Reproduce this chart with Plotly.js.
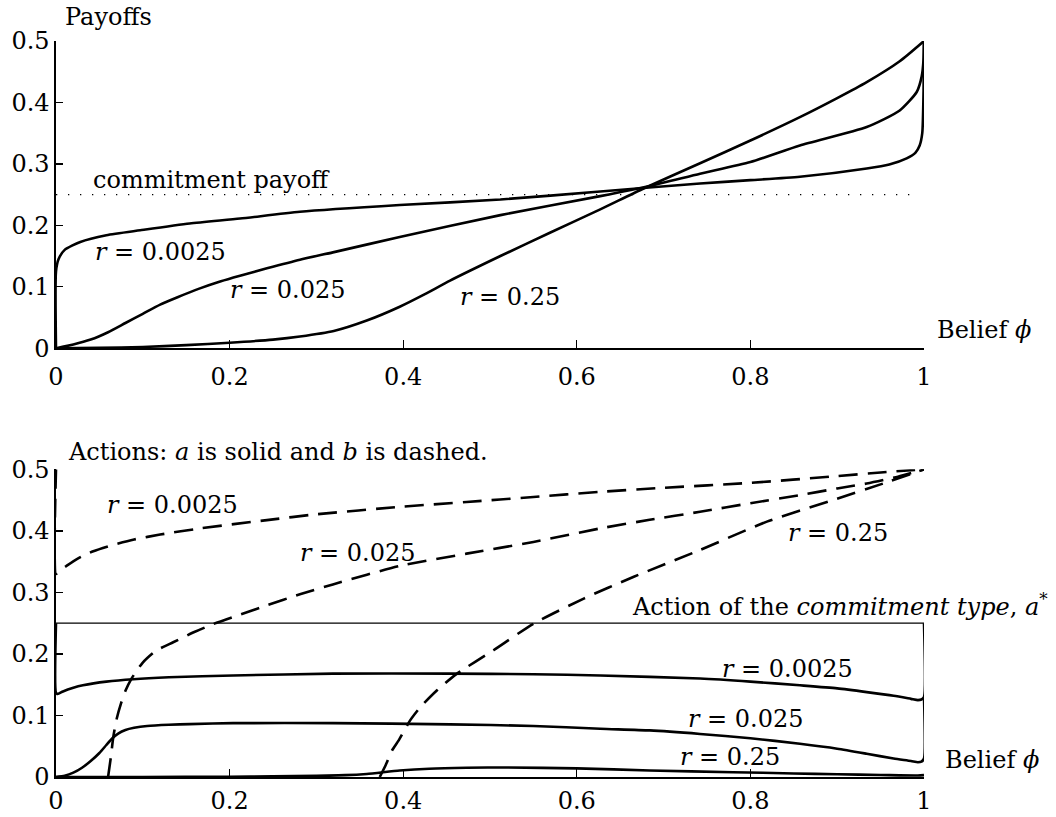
<!DOCTYPE html>
<html>
<head>
<meta charset="utf-8">
<script src="https://cdn.plot.ly/plotly-3.0.1.min.js"></script>
<style>html,body{margin:0;padding:0;background:#fff;}#chart{width:1056px;height:817px;}</style>
</head>
<body>
<div id="chart"></div>
<script>
// ---------- Top panel: payoffs ----------
const payPhi0025 = [0, 0, 0.003, 0.010, 0.028, 0.058, 0.097, 0.154, 0.212, 0.281, 0.396, 0.512, 0.627, 0.742, 0.8, 0.857, 0.934, 0.96, 0.98, 0.99, 0.995, 0.998, 0.9995, 1];
const pay0025    = [0, 0.125, 0.145, 0.160, 0.173, 0.184, 0.192, 0.203, 0.211, 0.222, 0.233, 0.242, 0.255, 0.268, 0.2735, 0.279, 0.2925, 0.299, 0.309, 0.318, 0.330, 0.350, 0.420, 0.5];

const payPhi025 = [0, 0.02, 0.04, 0.06, 0.08, 0.1, 0.12, 0.14, 0.165, 0.19, 0.212, 0.243, 0.281, 0.319, 0.396, 0.512, 0.627, 0.684, 0.742, 0.8, 0.857, 0.934, 0.972, 0.9916, 0.9973, 0.9995, 1];
const pay025    = [0, 0.006, 0.014, 0.026, 0.041, 0.056, 0.071, 0.083, 0.097, 0.109, 0.118, 0.130, 0.144, 0.156, 0.181, 0.2166, 0.2475, 0.264, 0.284, 0.303, 0.330, 0.360, 0.387, 0.417, 0.442, 0.47, 0.5];

const payPhi25 = [0, 0.05, 0.1, 0.15, 0.2, 0.25, 0.281, 0.32, 0.358, 0.396, 0.425, 0.454, 0.512, 0.569, 0.627, 0.677, 0.742, 0.8, 0.857, 0.9, 0.934, 0.972, 1];
const pay25    = [0, 0.0005, 0.002, 0.005, 0.009, 0.014, 0.019, 0.028, 0.045, 0.0675, 0.088, 0.110, 0.150, 0.188, 0.226, 0.260, 0.301, 0.338, 0.376, 0.407, 0.433, 0.467, 0.5];

const commitPhi = [0, 0.995];
const commitPayoff = [0.25, 0.25];

// ---------- Bottom panel: actions ----------
// b (dashed)
const bPhi0025 = [0, 0, 0.004, 0.012, 0.025, 0.043, 0.065, 0.09, 0.12, 0.166, 0.243, 0.3, 0.396, 0.473, 0.55, 0.627, 0.7, 0.8, 0.9, 0.95, 1];
const b0025    = [0.5, 0.33, 0.335, 0.343, 0.355, 0.367, 0.377, 0.386, 0.394, 0.404, 0.4175, 0.427, 0.439, 0.447, 0.455, 0.4635, 0.470, 0.478, 0.489, 0.495, 0.5];

const bPhi025 = [0.06, 0.063, 0.066, 0.07, 0.075, 0.08, 0.087, 0.1, 0.115, 0.135, 0.16, 0.18, 0.21, 0.243, 0.281, 0.319, 0.396, 0.473, 0.55, 0.627, 0.684, 0.742, 0.8, 0.857, 0.9, 0.934, 0.97, 1];
const b025    = [0, 0.03, 0.065, 0.095, 0.12, 0.14, 0.16, 0.186, 0.205, 0.219, 0.236, 0.248, 0.263, 0.279, 0.297, 0.313, 0.343, 0.363, 0.382, 0.404, 0.418, 0.431, 0.445, 0.458, 0.469, 0.477, 0.488, 0.5];

const bPhi25 = [0.373, 0.38, 0.387, 0.395, 0.408, 0.42, 0.439, 0.462, 0.504, 0.55, 0.608, 0.665, 0.742, 0.819, 0.895, 0.953, 1];
const b25    = [0, 0.02, 0.043, 0.06, 0.092, 0.114, 0.141, 0.168, 0.206, 0.249, 0.29, 0.325, 0.369, 0.415, 0.45, 0.477, 0.5];

// a (solid)
const aPhi0025 = [0, 0, 0.002, 0.008, 0.02, 0.031, 0.058, 0.089, 0.13, 0.204, 0.319, 0.454, 0.55, 0.627, 0.742, 0.8, 0.857, 0.9, 0.934, 0.965, 0.985, 0.993, 0.997, 1, 1];
const a0025    = [0.25, 0.137, 0.135, 0.139, 0.145, 0.149, 0.155, 0.159, 0.162, 0.165, 0.168, 0.168, 0.167, 0.165, 0.160, 0.155, 0.149, 0.144, 0.138, 0.132, 0.127, 0.125, 0.126, 0.13, 0.25];

const aPhi025 = [0, 0.01, 0.02, 0.03, 0.04, 0.05, 0.058, 0.065, 0.072, 0.08, 0.09, 0.105, 0.13, 0.154, 0.204, 0.319, 0.454, 0.55, 0.627, 0.684, 0.742, 0.8, 0.857, 0.9, 0.934, 0.965, 0.985, 0.993, 0.997, 1, 1];
const a025    = [0, 0.002, 0.007, 0.015, 0.026, 0.039, 0.052, 0.063, 0.071, 0.0765, 0.080, 0.083, 0.085, 0.086, 0.0875, 0.0876, 0.0855, 0.083, 0.0784, 0.0757, 0.070, 0.063, 0.054, 0.046, 0.0378, 0.030, 0.026, 0.024, 0.025, 0.03, 0.13];

const aPhi25 = [0, 0.1, 0.2, 0.25, 0.3, 0.333, 0.358, 0.396, 0.43, 0.473, 0.52, 0.6, 0.684, 0.78, 0.85, 0.9, 0.95, 0.993, 1];
const a25    = [0, 0, 0.0005, 0.001, 0.002, 0.003, 0.005, 0.0105, 0.0135, 0.015, 0.0155, 0.014, 0.0106, 0.0078, 0.0058, 0.0045, 0.0033, 0.0024, 0.003];

const aStarPhi = [0, 1];
const aStar = [0.25, 0.25];

const xTicks = [0, 0.2, 0.4, 0.6, 0.8, 1];
const yTicks = [0, 0.1, 0.2, 0.3, 0.4, 0.5];

// ---------- Styling ----------
const FONT = 'DejaVu Serif, serif';
const FS = 24;
const solid = {color: '#000', width: 2.6, shape: 'spline', smoothing: 0.6};
const dashed = {color: '#000', width: 2.6, dash: '19px,10px', shape: 'spline', smoothing: 0.6};

function tr(x, y, line, xa, ya) {
  return {x: x, y: y, mode: 'lines', line: line, xaxis: xa, yaxis: ya, hoverinfo: 'skip', showlegend: false};
}

const data = [
  tr(commitPhi, commitPayoff, {color: '#000', width: 1.3, dash: '1.3px,10.7px'}, 'x', 'y'),
  tr(payPhi0025, pay0025, solid, 'x', 'y'),
  tr(payPhi025, pay025, solid, 'x', 'y'),
  tr(payPhi25, pay25, solid, 'x', 'y'),
  tr(aStarPhi, aStar, {color: '#000', width: 1.3}, 'x2', 'y2'),
  tr(bPhi0025, b0025, dashed, 'x2', 'y2'),
  tr(bPhi025, b025, dashed, 'x2', 'y2'),
  tr(bPhi25, b25, dashed, 'x2', 'y2'),
  tr(aPhi0025, a0025, solid, 'x2', 'y2'),
  tr(aPhi025, a025, solid, 'x2', 'y2'),
  tr(aPhi25, a25, solid, 'x2', 'y2')
];

function xAxis(anchor, standoff) {
  return {
    anchor: anchor, domain: [0, 1], range: [0, 1],
    tickmode: 'array', tickvals: xTicks, ticktext: xTicks.map(String),
    ticks: 'inside', ticklen: 8, tickwidth: 1.3, tickcolor: '#000',
    showline: true, linecolor: '#000', linewidth: 1.6,
    showgrid: false, zeroline: false, ticklabelstandoff: standoff,
    tickfont: {family: FONT, size: FS, color: '#000'}
  };
}
function yAxis(anchor, domain) {
  return {
    anchor: anchor, domain: domain, range: [0, 0.5],
    tickmode: 'array', tickvals: yTicks, ticktext: yTicks.map(String),
    ticks: 'inside', ticklen: 7, tickwidth: 1.3, tickcolor: '#000',
    showline: true, linecolor: '#000', linewidth: 1.6,
    showgrid: false, zeroline: false,
    tickfont: {family: FONT, size: FS, color: '#000'}
  };
}

function ann(text, x, y, xref, yref, xanchor) {
  return {text: text, x: x, y: y, xref: xref, yref: yref, xanchor: xanchor || 'left', yanchor: 'middle',
          showarrow: false, font: {family: FONT, size: FS, color: '#000'}};
}

// paper y from pixel: (777 - py) / 736 ; paper x from pixel: (px - 56) / 868
const annotations = [
  ann('Payoffs', 0.008, (777 - 17) / 736, 'paper', 'paper'),
  ann('commitment payoff', 0.040, 0.2735, 'x', 'y'),
  ann('<i>r</i> = 0.0025', 0.043, 0.157, 'x', 'y'),
  ann('<i>r</i> = 0.025', 0.198, 0.0946, 'x', 'y'),
  ann('<i>r</i> = 0.25', 0.463, 0.0837, 'x', 'y'),
  ann('Belief <i>\u03D5</i>', (935 - 56) / 868, (777 - 330) / 736, 'paper', 'paper'),
  ann('Actions: <i>a</i> is solid and <i>b</i> is dashed.', 0.012, (777 - 451.7) / 736, 'paper', 'paper'),
  ann('<i>r</i> = 0.0025', 0.057, 0.4419, 'x2', 'y2'),
  ann('<i>r</i> = 0.025', 0.279, 0.3633, 'x2', 'y2'),
  ann('<i>r</i> = 0.25', 0.841, 0.3958, 'x2', 'y2'),
  ann('Action of the <i>commitment type</i>, <i>a</i><sup>*</sup>', (1050 - 56) / 868, (777 - 605) / 736, 'paper', 'paper', 'right'),
  ann('<i>r</i> = 0.0025', 0.765, 0.176, 'x2', 'y2'),
  ann('<i>r</i> = 0.025', 0.726, 0.0947, 'x2', 'y2'),
  ann('<i>r</i> = 0.25', 0.717, 0.0322, 'x2', 'y2'),
  ann('Belief <i>\u03D5</i>', (943 - 56) / 868, (777 - 760) / 736, 'paper', 'paper')
];

const layout = {
  width: 1056, height: 817,
  margin: {l: 56, r: 132, t: 41, b: 40, pad: 0},
  paper_bgcolor: '#fff', plot_bgcolor: '#fff',
  showlegend: false,
  font: {family: FONT, size: FS, color: '#000'},
  xaxis: xAxis('y', 6),
  yaxis: yAxis('x', [0.5826, 1]),
  xaxis2: xAxis('y2', 2),
  yaxis2: yAxis('x2', [0, 0.418]),
  annotations: annotations
};

Plotly.newPlot('chart', data, layout, {staticPlot: true, displayModeBar: false});
</script>
</body>
</html>
